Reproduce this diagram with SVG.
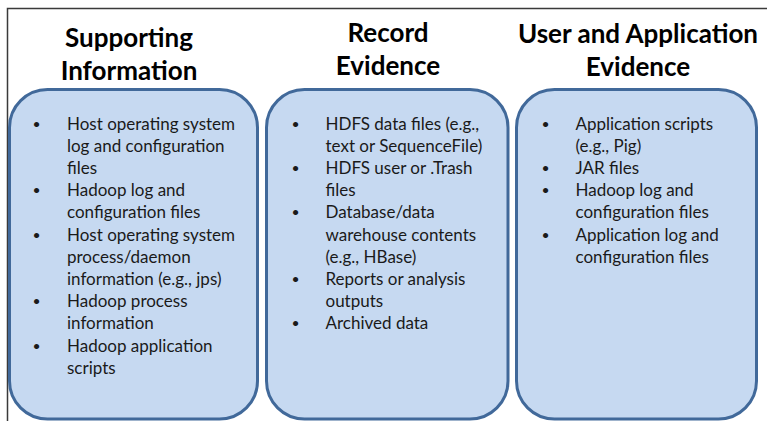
<svg xmlns="http://www.w3.org/2000/svg" width="767" height="421" viewBox="0 0 767 421">
<style>
.frame{fill:none;stroke:#3a3a3a;stroke-width:1.5}
.box{fill:#c6d9f1;stroke:#41699a;stroke-width:3}
.title{font-family:Lato,"Liberation Sans",sans-serif;font-weight:bold;font-size:26px;fill:#000;text-anchor:middle}
.body{font-family:Lato,"Liberation Sans",sans-serif;font-size:17px;fill:#1a1a1a}
.bul{font-size:14px}
</style>
<rect class="frame" x="7.5" y="8.5" width="820" height="500"/>
<g id="col-supporting">
<rect class="box" x="9.5" y="89.5" width="248" height="329.5" rx="38" ry="38"/>
<text class="title" x="129" y="47">Supporting</text>
<text class="title" x="129" y="80">Information</text>
<g class="body">
<text class="bul" x="32.5" y="128.5">•</text><text x="67" y="129.5">Host operating system</text>
<text x="67" y="151.7">log and configuration</text>
<text x="67" y="173.9">files</text>
<text class="bul" x="32.5" y="195.1">•</text><text x="67" y="196.1">Hadoop log and</text>
<text x="67" y="218.3">configuration files</text>
<text class="bul" x="32.5" y="239.5">•</text><text x="67" y="240.5">Host operating system</text>
<text x="67" y="262.7">process/daemon</text>
<text x="67" y="284.9">information (e.g., jps)</text>
<text class="bul" x="32.5" y="306.1">•</text><text x="67" y="307.1">Hadoop process</text>
<text x="67" y="329.3">information</text>
<text class="bul" x="32.5" y="350.5">•</text><text x="67" y="351.5">Hadoop application</text>
<text x="67" y="373.7">scripts</text>
</g>
</g>
<g id="col-record">
<rect class="box" x="266.5" y="89.5" width="241.5" height="329.5" rx="38" ry="38"/>
<text class="title" x="388" y="42">Record</text>
<text class="title" x="388" y="75">Evidence</text>
<g class="body">
<text class="bul" x="291.5" y="128.5">•</text><text x="325.5" y="129.5">HDFS data files (e.g.,</text>
<text x="325.5" y="151.7">text or SequenceFile)</text>
<text class="bul" x="291.5" y="172.9">•</text><text x="325.5" y="173.9">HDFS user or .Trash</text>
<text x="325.5" y="196.1">files</text>
<text class="bul" x="291.5" y="217.3">•</text><text x="325.5" y="218.3">Database/data</text>
<text x="325.5" y="240.5">warehouse contents</text>
<text x="325.5" y="262.7">(e.g., HBase)</text>
<text class="bul" x="291.5" y="283.9">•</text><text x="325.5" y="284.9">Reports or analysis</text>
<text x="325.5" y="307.1">outputs</text>
<text class="bul" x="291.5" y="328.3">•</text><text x="325.5" y="329.3">Archived data</text>
</g>
</g>
<g id="col-user-app">
<rect class="box" x="516.5" y="89.5" width="240" height="329.5" rx="38" ry="38"/>
<text class="title" x="638" y="43">User and Application</text>
<text class="title" x="638" y="76">Evidence</text>
<g class="body">
<text class="bul" x="541.5" y="128.5">•</text><text x="575.5" y="129.5">Application scripts</text>
<text x="575.5" y="151.7">(e.g., Pig)</text>
<text class="bul" x="541.5" y="172.9">•</text><text x="575.5" y="173.9">JAR files</text>
<text class="bul" x="541.5" y="195.1">•</text><text x="575.5" y="196.1">Hadoop log and</text>
<text x="575.5" y="218.3">configuration files</text>
<text class="bul" x="541.5" y="239.5">•</text><text x="575.5" y="240.5">Application log and</text>
<text x="575.5" y="262.7">configuration files</text>
</g>
</g>
<g id="connectors"/>
</svg>
